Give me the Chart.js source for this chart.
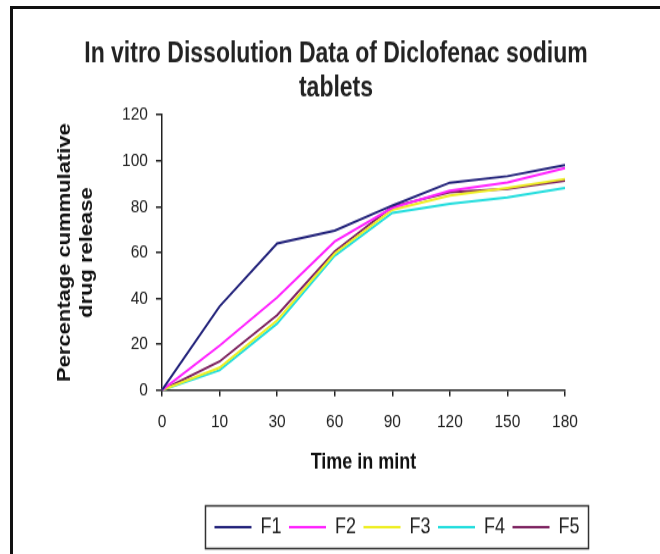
<!DOCTYPE html>
<html>
<head>
<meta charset="utf-8">
<title>In vitro Dissolution Data of Diclofenac sodium tablets</title>
<script src="https://cdn.jsdelivr.net/npm/chart.js@4.4.1/dist/chart.umd.min.js"></script>
<style>
  html, body { margin: 0; padding: 0; background: #fff; overflow: hidden; width: 660px; height: 554px; }
  #frame { position: absolute; left: 10px; top: 6px; width: 700px; height: 600px; border-left: 3px solid #111; border-top: 3px solid #111; }
  /* the source picture is stretched vertically, so the chart is drawn at 660x454 and scaled */
  #chart { position: absolute; left: 0; top: 0; transform-origin: 0 0; transform: scaleY(1.2203); }
</style>
</head>
<body>
<div id="frame"></div>
<canvas id="chart" width="660" height="454"></canvas>
<script>
// Data
const timeLabels = ['0', '10', '30', '60', '90', '120', '150', '180'];
const seriesNames = ['F1', 'F2', 'F3', 'F4', 'F5'];
const f1Values = [0, 36.5, 64.0, 69.6, 80.5, 90.5, 93.3, 98.2];
const f2Values = [0, 19.4, 40.4, 64.8, 79.5, 87.0, 90.6, 96.8];
const f3Values = [0, 9.8, 30.4, 59.6, 78.6, 84.8, 88.2, 92.1];
const f4Values = [0, 8.7, 29.0, 58.6, 77.3, 81.2, 84.1, 88.2];
const f5Values = [0, 12.5, 32.7, 60.5, 80.0, 86.3, 87.8, 91.4];
const yTicks = { min: 0, max: 120, step: 20 };

const titleLines = ['In vitro Dissolution Data of Diclofenac sodium', 'tablets'];
const yTitleLines = ['Percentage cummulative', 'drug release'];
const xTitle = 'Time in mint';

const seriesColors = ['#22227a', '#ff22ff', '#eeee22', '#22dddd', '#7d2360'];
const allValues = [f1Values, f2Values, f3Values, f4Values, f5Values];

// Horizontal centres of the title and the legend in the reference
const TITLE_CENTER_X = 336;
const LEGEND_CENTER_X = 397;

/**
 * Moves title / legend sideways and draws the box round the legend
 */
const boxShiftPlugin = {
    id: 'boxShift',
    afterLayout(chart) {
        const shift = (box, cx) => {
            if (!box) return;
            const dx = cx - (box.left + box.right) / 2;
            box.left += dx;
            box.right += dx;
        };
        shift(chart.titleBlock, TITLE_CENTER_X);
        shift(chart.legend, LEGEND_CENTER_X);
    },
    afterDraw(chart) {
        const boxes = chart.legend && chart.legend.legendHitBoxes;
        if (!boxes || !boxes.length) return;
        const first = boxes[0];
        const last = boxes[boxes.length - 1];
        const cy = first.top + first.height / 2;
        const ctx = chart.ctx;
        ctx.save();
        ctx.lineWidth = 1.5;
        ctx.strokeStyle = '#333';
        ctx.strokeRect(first.left - 9, cy - 17.5, last.left + last.width + 9 - (first.left - 9), 35);
        ctx.restore();
    }
};

Chart.defaults.font.family = "'Liberation Sans', Arial, sans-serif";

const datasets = seriesNames.map((name, i) => ({
    label: name,
    data: allValues[i],
    borderColor: seriesColors[i],
    backgroundColor: seriesColors[i],
    borderWidth: 2,
    fill: false,
    tension: 0,
    pointRadius: 0,
    pointHoverRadius: 0
}));

const ctx = document.getElementById('chart').getContext('2d');
new Chart(ctx, {
    type: 'line',
    data: { labels: timeLabels, datasets: datasets },
    options: {
        responsive: false,
        animation: false,
        devicePixelRatio: 1,
        layout: { padding: { left: 12, right: 95, top: 0, bottom: 3 } },
        plugins: {
            title: {
                display: true,
                text: titleLines,
                color: '#222',
                font: { size: 23, weight: 'bold', lineHeight: 1.2 },
                padding: { top: 31, bottom: 8 }
            },
            legend: {
                position: 'bottom',
                labels: {
                    usePointStyle: true,
                    pointStyle: 'line',
                    pointStyleWidth: 37,
                    color: '#222',
                    font: { size: 18 },
                    padding: 7.5
                }
            },
            tooltip: { enabled: false }
        },
        scales: {
            x: {
                type: 'category',
                offset: false,
                grid: { drawOnChartArea: false, drawTicks: true, tickLength: 5, color: '#222', lineWidth: 1.5 },
                border: { color: '#222', width: 1.5 },
                ticks: { color: '#222', font: { size: 15.5 }, padding: 11.6, maxRotation: 0, autoSkip: false },
                title: {
                    display: true,
                    text: xTitle,
                    color: '#111',
                    font: { size: 18, weight: 'bold' },
                    padding: { top: 1.3, bottom: 26.1 }
                }
            },
            y: {
                min: yTicks.min,
                max: yTicks.max,
                grid: { drawOnChartArea: false, drawTicks: true, tickLength: 6, color: '#222', lineWidth: 1.5 },
                border: { color: '#222', width: 1.5 },
                ticks: { stepSize: yTicks.step, color: '#222', font: { size: 15.5 }, padding: 8 },
                title: {
                    display: true,
                    text: yTitleLines,
                    color: '#111',
                    font: { size: 18, weight: 'bold', lineHeight: 1.25 },
                    padding: { top: 41.75, bottom: 15.35 }
                }
            }
        }
    },
    plugins: [boxShiftPlugin]
});
</script>
</body>
</html>
